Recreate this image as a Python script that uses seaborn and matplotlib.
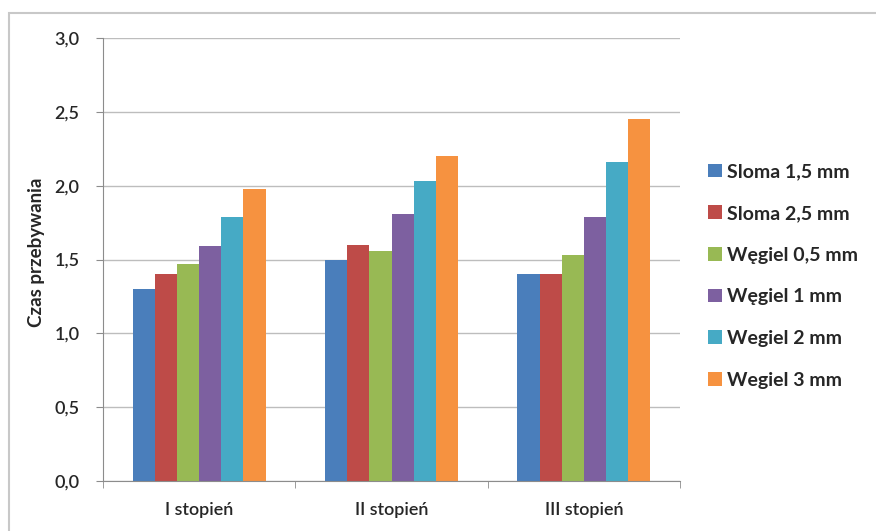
import seaborn as sns
import matplotlib.pyplot as plt
import matplotlib.patches as mpatches
from matplotlib.ticker import FuncFormatter
import pandas as pd

stopnie = ['I stopień', 'II stopień', 'III stopień']
serie = ['Sloma 1,5 mm', 'Sloma 2,5 mm', 'Węgiel 0,5 mm', 'Węgiel 1 mm', 'Wegiel 2 mm', 'Wegiel 3 mm']
sloma_15 = [1.30, 1.50, 1.40]
sloma_25 = [1.40, 1.60, 1.40]
wegiel_05 = [1.47, 1.56, 1.53]
wegiel_1 = [1.59, 1.81, 1.79]
wegiel_2 = [1.79, 2.03, 2.16]
wegiel_3 = [1.98, 2.20, 2.45]
kolory = ['#4A7EBB', '#BE4B48', '#98B954', '#7D60A0', '#46AAC5', '#F69240']

wartosci = [sloma_15, sloma_25, wegiel_05, wegiel_1, wegiel_2, wegiel_3]
df = pd.DataFrame([
    {'stopien': s, 'seria': nazwa, 'czas': v}
    for nazwa, vals in zip(serie, wartosci)
    for s, v in zip(stopnie, vals)
])

sns.set_style('white')
plt.rcParams['font.family'] = ['Lato', 'DejaVu Sans']

fig = plt.figure(figsize=(8.76, 5.31), dpi=100)
ax = fig.add_axes([103 / 876, 50 / 531, 577 / 876, 443 / 531])

sns.barplot(data=df, x='stopien', y='czas', hue='seria', hue_order=serie,
            order=stopnie, palette=kolory, width=0.69, gap=0, saturation=1,
            errorbar=None, linewidth=0, ax=ax)

ax.set_ylim(0, 3.0)
ax.set_xlim(-0.5, 2.5)
ax.set_yticks([0, 0.5, 1.0, 1.5, 2.0, 2.5, 3.0])
ax.yaxis.set_major_formatter(FuncFormatter(lambda v, p: f'{v:.1f}'.replace('.', ',')))
ax.yaxis.grid(True, color='#BDBDBD', linewidth=1)
ax.set_axisbelow(True)
for side in ['top', 'right']:
    ax.spines[side].set_visible(False)
ax.spines['left'].set_color('#8C8C8C')
ax.spines['bottom'].set_color('#8C8C8C')
ax.tick_params(axis='y', length=5, color='#8C8C8C', labelsize=13, pad=12, left=True)
ax.tick_params(axis='x', which='major', length=0, labelsize=13, pad=15)
ax.set_xticks([-0.5, 0.5, 1.5, 2.5], minor=True)
ax.tick_params(axis='x', which='minor', length=5, color='#8C8C8C', bottom=True)
for lab in ax.get_xticklabels() + ax.get_yticklabels():
    lab.set_fontweight('semibold')
    lab.set_color('#262626')
ax.set_xlabel('')
ax.set_ylabel('Czas przebywania', fontsize=13.5, fontweight='bold', color='#262626')
ax.yaxis.set_label_coords(-0.1, 0.517)

leg = ax.legend(loc='center left', bbox_to_anchor=(1.035, 0.463), frameon=False,
                handlelength=0.7, handleheight=0.7, handletextpad=0.3,
                labelspacing=1.27, borderaxespad=0, prop={'size': 14, 'weight': 'bold'})
for t in leg.get_texts():
    t.set_color('#262626')

# ramka wykresu, prawa i dolna krawedz poza kadrem
fig.patches.append(mpatches.Rectangle((9 / 876, -6 / 531), 880 / 876, 524 / 531,
                                      transform=fig.transFigure, fill=False,
                                      edgecolor='#C8C8C8', linewidth=1.5))

fig.savefig('out.png', dpi=100)
